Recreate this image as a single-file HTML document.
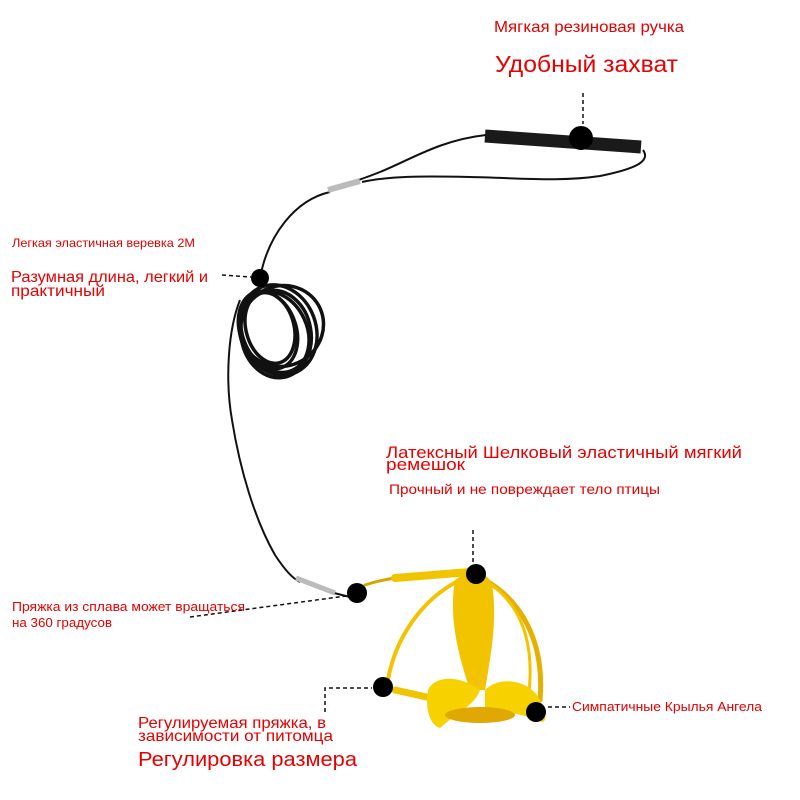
<!DOCTYPE html>
<html><head><meta charset="utf-8"><style>
body{margin:0;background:#fff;}
svg{display:block}
text{font-family:"Liberation Sans","Noto Sans CJK SC",sans-serif;fill:#e60000}
</style></head><body>
<svg width="800" height="800" viewBox="0 0 800 800" xmlns="http://www.w3.org/2000/svg">
<rect width="800" height="800" fill="#fff"/>
<g fill="none" stroke="#111" stroke-width="2">
<path d="M486,135 C440,140 410,160 380,172 C360,180 350,183 340,186"/>
<path d="M643,150 C650,160 640,168 600,176 C560,182 520,178 470,177 C420,176 390,176 362,182"/>
<path d="M330,192 C295,200 268,235 260,278"/>
<g stroke-width="3.5">
<ellipse cx="278" cy="330" rx="38" ry="46" transform="rotate(-20 278 330)"/>
<ellipse cx="275" cy="332" rx="32" ry="42" transform="rotate(-25 275 332)"/>
<ellipse cx="270" cy="328" rx="24" ry="36" transform="rotate(-15 270 328)"/>
<ellipse cx="282" cy="326" rx="42" ry="40" transform="rotate(-30 282 326)"/>
<ellipse cx="276" cy="334" rx="35" ry="44" transform="rotate(-10 276 334)"/>
<ellipse cx="268" cy="330" rx="28" ry="40" transform="rotate(-20 268 330)"/>
</g>
<path d="M240,300 C228,330 225,380 232,420 C240,470 255,520 275,555 C285,570 292,578 300,582"/>
<path d="M330,592 L350,597"/>
</g>
<path d="M328,190 L360,181" stroke="#bbb" stroke-width="6"/>
<path d="M296,578 L335,593" stroke="#bbb" stroke-width="5"/>
<path d="M485,136 L641,147" stroke="#1a1a1a" stroke-width="13"/>
<g fill="none" stroke="#f2c400" stroke-linecap="round">
<path d="M365,585 C380,580 400,575 470,572" stroke="#d8a300" stroke-width="3"/>
<path d="M395,578 L470,572" stroke="#f2c400" stroke-width="8"/>
<path d="M460,580 C420,600 395,640 388,680" stroke-width="4"/>
<path d="M485,580 C520,600 545,640 540,700" stroke="#e6b000" stroke-width="5"/>
<path d="M492,585 C525,610 535,650 528,700" stroke-width="3"/>
<path d="M395,690 L440,700" stroke-width="7"/>
</g>
<path d="M455,580 C468,570 488,570 492,585 C498,620 490,660 485,690 L470,690 C460,660 448,620 455,580Z" fill="#f2c400"/>
<path d="M480,690 C460,675 435,675 428,690 C425,710 430,725 440,728 C460,710 475,705 480,690Z" fill="#f7d200"/>
<path d="M485,690 C500,675 530,680 540,700 C545,715 548,720 542,722 C520,712 500,712 485,710Z" fill="#f7d200"/>
<ellipse cx="480" cy="715" rx="35" ry="8" fill="#e0a800"/>
<g fill="#000">
<circle cx="581" cy="138" r="12"/>
<circle cx="260" cy="278" r="9"/>
<circle cx="357" cy="593" r="10"/>
<circle cx="476" cy="574" r="10"/>
<circle cx="383" cy="687" r="10"/>
<circle cx="536" cy="712" r="10"/>
</g>
<g stroke="#111" stroke-width="1.5" stroke-dasharray="4,3" fill="none">
<path d="M583,93 L583,124"/>
<path d="M222,275 L251,277"/>
<path d="M190,617 L346,596"/>
<path d="M473,530 L473,562"/>
<path d="M325,712 L325,688 L372,688"/>
<path d="M548,707 L570,707"/>
</g>
<g lengthAdjust="spacingAndGlyphs">
<text x="494" y="32" font-size="16" textLength="190" lengthAdjust="spacingAndGlyphs">Мягкая резиновая ручка</text>
<text x="495" y="72" font-size="23" textLength="183" lengthAdjust="spacingAndGlyphs">Удобный захват</text>
<text x="12" y="247" font-size="12" textLength="183" lengthAdjust="spacingAndGlyphs">Легкая эластичная веревка 2М</text>
<text x="11" y="282" font-size="16" textLength="197" lengthAdjust="spacingAndGlyphs">Разумная длина, легкий и</text>
<text x="11" y="296" font-size="16" textLength="94" lengthAdjust="spacingAndGlyphs">практичный</text>
<text x="386" y="458" font-size="17" textLength="356" lengthAdjust="spacingAndGlyphs">Латексный Шелковый эластичный мягкий</text>
<text x="386" y="470" font-size="17" textLength="79" lengthAdjust="spacingAndGlyphs">ремешок</text>
<text x="389" y="494" font-size="14" textLength="271" lengthAdjust="spacingAndGlyphs">Прочный и не повреждает тело птицы</text>
<text x="12" y="611" font-size="13" textLength="233" lengthAdjust="spacingAndGlyphs">Пряжка из сплава может вращаться</text>
<text x="12" y="627" font-size="13" textLength="100" lengthAdjust="spacingAndGlyphs">на 360 градусов</text>
<text x="572" y="711" font-size="13" textLength="190" lengthAdjust="spacingAndGlyphs">Симпатичные Крылья Ангела</text>
<text x="138" y="728" font-size="16" textLength="188" lengthAdjust="spacingAndGlyphs">Регулируемая пряжка, в</text>
<text x="138" y="741" font-size="16" textLength="195" lengthAdjust="spacingAndGlyphs">зависимости от питомца</text>
<text x="138" y="766" font-size="20" textLength="219" lengthAdjust="spacingAndGlyphs">Регулировка размера</text>
</g>
</svg>
</body></html>
